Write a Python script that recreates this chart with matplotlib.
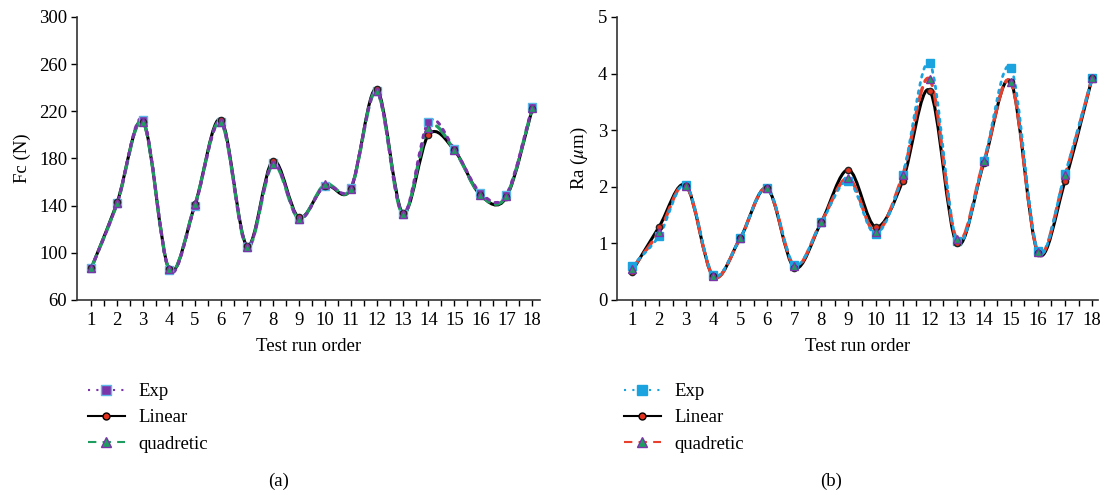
import numpy as np
import matplotlib.pyplot as plt
from matplotlib.path import Path
from matplotlib.patches import PathPatch
from matplotlib.lines import Line2D

plt.rcParams['font.family'] = ['Liberation Serif', 'DejaVu Serif']
plt.rcParams['mathtext.fontset'] = 'stix'

runs = list(range(1, 19))

# (a) cutting force Fc (N)
fc_exp = [87, 142, 213, 85, 140, 211, 105, 176, 129, 157, 155, 237, 133, 211, 188, 151, 149, 224]
fc_lin = [87, 143, 211, 86, 141, 213, 106, 178, 130, 157, 154, 239, 134, 200, 187, 149, 147, 222]
fc_quad = [87, 142, 211, 86, 141, 211, 105, 175, 129, 158, 154, 237, 133, 206, 187, 149, 148, 223]

# (b) surface roughness Ra (um)
ra_exp = [0.60, 1.13, 2.03, 0.45, 1.09, 1.98, 0.62, 1.37, 2.10, 1.17, 2.20, 4.18, 1.05, 2.45, 4.10, 0.86, 2.23, 3.93]
ra_lin = [0.50, 1.29, 2.02, 0.42, 1.09, 1.97, 0.57, 1.38, 2.30, 1.29, 2.10, 3.70, 1.00, 2.42, 3.85, 0.83, 2.10, 3.92]
ra_quad = [0.55, 1.20, 2.02, 0.42, 1.09, 1.97, 0.60, 1.38, 2.15, 1.20, 2.20, 3.90, 1.07, 2.45, 3.85, 0.85, 2.20, 3.92]

series_labels = ['Exp', 'Linear', 'quadretic']


def smooth_path(x, y):
    """Excel-style smoothed line: cubic Bezier through every point."""
    x = np.asarray(x, float)
    y = np.asarray(y, float)
    px = np.concatenate([[x[0]], x, [x[-1]]])
    py = np.concatenate([[y[0]], y, [y[-1]]])
    verts = [(x[0], y[0])]
    codes = [Path.MOVETO]
    for i in range(len(x) - 1):
        j = i + 1
        c1 = (px[j] + (px[j + 1] - px[j - 1]) / 6, py[j] + (py[j + 1] - py[j - 1]) / 6)
        c2 = (px[j + 1] - (px[j + 2] - px[j]) / 6, py[j + 1] - (py[j + 2] - py[j]) / 6)
        verts += [c1, c2, (x[j], y[j])]
        codes += [Path.CURVE4] * 3
    return Path(verts, codes)


def draw_series(ax, y, color, ls, lw, marker, mfc, mec, ms, z, mz):
    ax.add_patch(PathPatch(smooth_path(runs, y), fill=False, edgecolor=color,
                           linestyle=ls, linewidth=lw, zorder=z, capstyle='round'))
    ax.plot(runs, y, linestyle='none', marker=marker, markerfacecolor=mfc,
            markeredgecolor=mec, markersize=ms, markeredgewidth=1, zorder=mz)


def style_axes(ax, ylim, yticks, ylabel, xmax):
    ax.set_xlim(0.45, xmax)
    ax.set_ylim(*ylim)
    ax.set_yticks(yticks)
    ax.set_xticks(runs)
    ax.set_xticks(np.arange(1.5, 18, 1), minor=True)
    ax.tick_params(axis='x', which='both', direction='out', length=4, width=1, labelsize=13.5, pad=5)
    ax.tick_params(axis='y', direction='out', length=4, width=1, labelsize=13.5, pad=3)
    ax.spines['top'].set_visible(False)
    ax.spines['right'].set_visible(False)
    for s in ['left', 'bottom']:
        ax.spines[s].set_color('#333333')
        ax.spines[s].set_linewidth(1.2)
    ax.set_xlabel('Test run order', fontsize=13.5, labelpad=6)
    ax.set_ylabel(ylabel, fontsize=13.5, labelpad=6)


fig = plt.figure(figsize=(11.05, 4.95), dpi=100)
ax1 = fig.add_axes([0.0697, 0.394, 0.419, 0.5717])
ax2 = fig.add_axes([0.5584, 0.394, 0.4353, 0.5717])

# (a)
purple = '#7B35A8'
sky = '#5BB8E8'
green = '#1E9E5E'
red = '#E2321E'
draw_series(ax1, fc_exp, purple, (0, (1, 2)), 2.2, 's', purple, sky, 6, 5, 6)
draw_series(ax1, fc_lin, 'black', '-', 2.2, 'o', red, '#222222', 4.5, 3, 7)
draw_series(ax1, fc_quad, green, (0, (4, 2)), 2.4, '^', green, purple, 6, 4, 8)
style_axes(ax1, (60, 300), np.arange(60, 301, 40), 'Fc (N)', 18.3)

handles1 = [
    Line2D([], [], color=purple, ls=(0, (1, 3)), lw=1.5, marker='s', mfc=purple, mec=sky, ms=7),
    Line2D([], [], color='black', ls='-', lw=1.5, marker='o', mfc=red, mec='black', ms=5),
    Line2D([], [], color=green, ls=(0, (4, 3)), lw=1.5, marker='^', mfc=green, mec=purple, ms=7),
]
fig.legend(handles1, series_labels, loc='upper left', bbox_to_anchor=(0.073, 0.241),
           frameon=False, fontsize=13.5, handlelength=1.95, handletextpad=0.75,
           labelspacing=0.48, borderaxespad=0)

# (b)
blue = '#1BA3E0'
rdash = '#E8402C'
draw_series(ax2, ra_exp, blue, (0, (1, 2)), 2.0, 's', blue, blue, 6, 5, 6)
draw_series(ax2, ra_lin, 'black', '-', 2.2, 'o', red, '#222222', 4.5, 3, 7)
draw_series(ax2, ra_quad, rdash, (0, (4, 2)), 2.4, '^', green, purple, 6, 4, 8)
style_axes(ax2, (0, 5), np.arange(0, 6, 1), r'Ra ($\mu$m)', 18.22)

handles2 = [
    Line2D([], [], color=blue, ls=(0, (1, 3)), lw=1.5, marker='s', mfc=blue, mec=blue, ms=7),
    Line2D([], [], color='black', ls='-', lw=1.5, marker='o', mfc=red, mec='black', ms=5),
    Line2D([], [], color=rdash, ls=(0, (4, 3)), lw=1.5, marker='^', mfc=green, mec=purple, ms=7),
]
fig.legend(handles2, series_labels, loc='upper left', bbox_to_anchor=(0.558, 0.241),
           frameon=False, fontsize=13.5, handlelength=1.95, handletextpad=0.75,
           labelspacing=0.48, borderaxespad=0)

fig.text(0.2525, 0.028, '(a)', ha='center', va='center', fontsize=13.5)
fig.text(0.7525, 0.028, '(b)', ha='center', va='center', fontsize=13.5)

fig.savefig('out.png', dpi=100)
